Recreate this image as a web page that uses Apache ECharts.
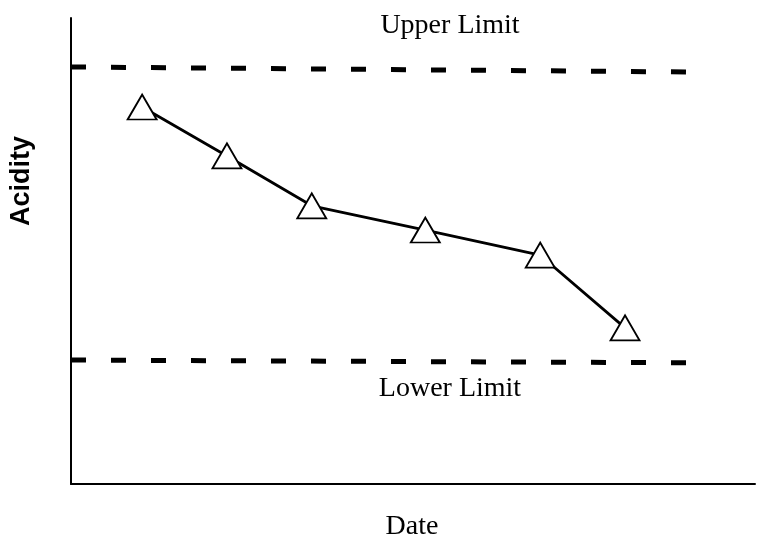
<!DOCTYPE html>
<html lang="en" style="height: 100%">
<head>
<meta charset="utf-8">
<title>Acidity Control Chart</title>
</head>
<body style="height: 100%; margin: 0; background: #fff">
<div id="container" style="width: 772px; height: 552px"></div>

<script type="text/javascript" src="https://cdn.jsdelivr.net/npm/echarts@6/dist/echarts.min.js"></script>

<script type="text/javascript">

var dom = document.getElementById('container');
var myChart = echarts.init(dom);

// positions along the date axis (0-100) and acidity readings (0-100)
var dates = [10.4, 22.8, 35.2, 51.8, 68.6, 81.0];
var acidity = [80.9, 70.4, 59.7, 54.5, 49.1, 33.5];

// control limits (slightly sloped in the original scan)
var limitX = [0, 91.2];
var upperLimit = [89.5, 88.4];
var lowerLimit = [26.6, 26.0];

function pairs(xs, ys) {
    return xs.map(function (x, i) { return [x, ys[i]]; });
}

var serif = '"Liberation Serif", "DejaVu Serif", serif';

function limitSeries(name, ys) {
    return {
        name: name,
        type: 'line',
        data: pairs(limitX, ys),
        symbol: 'none',
        lineStyle: { color: '#000', width: 5, type: [15, 25], dashOffset: 0, cap: 'butt' }
    };
}

var option = {
    backgroundColor: '#fff',
    animation: false,
    grid: {
        left: 71,
        right: 17,
        top: 18,
        bottom: 68
    },
    xAxis: {
        type: 'value',
        min: 0,
        max: 100,
        axisLine: { show: true, lineStyle: { color: '#000', width: 2 } },
        axisTick: { show: false },
        axisLabel: { show: false },
        splitLine: { show: false }
    },
    yAxis: {
        type: 'value',
        min: 0,
        max: 100,
        axisLine: { show: true, lineStyle: { color: '#000', width: 2 } },
        axisTick: { show: false },
        axisLabel: { show: false },
        splitLine: { show: false }
    },
    graphic: [
        {
            type: 'text', x: 450, y: 26,
            style: { text: 'Upper Limit', font: '28px ' + serif, fill: '#000', textAlign: 'center', textVerticalAlign: 'middle' }
        },
        {
            type: 'text', x: 450, y: 389,
            style: { text: 'Lower Limit', font: '28px ' + serif, fill: '#000', textAlign: 'center', textVerticalAlign: 'middle' }
        },
        {
            type: 'text', x: 412, y: 527,
            style: { text: 'Date', font: '28px ' + serif, fill: '#000', textAlign: 'center', textVerticalAlign: 'middle' }
        },
        {
            type: 'text', x: 22, y: 181, rotation: Math.PI / 2,
            style: { text: 'Acidity', font: 'bold 27px "Liberation Sans", Arial, sans-serif', fill: '#000', textAlign: 'center', textVerticalAlign: 'middle' }
        }
    ],
    series: [
        limitSeries('Upper Limit', upperLimit),
        limitSeries('Lower Limit', lowerLimit),
        {
            name: 'Acidity',
            type: 'line',
            data: pairs(dates, acidity),
            symbol: 'triangle',
            symbolSize: [29, 25],
            itemStyle: { color: '#fff', borderColor: '#000', borderWidth: 1.8 },
            lineStyle: { color: '#000', width: 2.8 },
            z: 5
        }
    ]
};

myChart.setOption(option);

window.addEventListener('resize', myChart.resize);
</script>
</body>
</html>
